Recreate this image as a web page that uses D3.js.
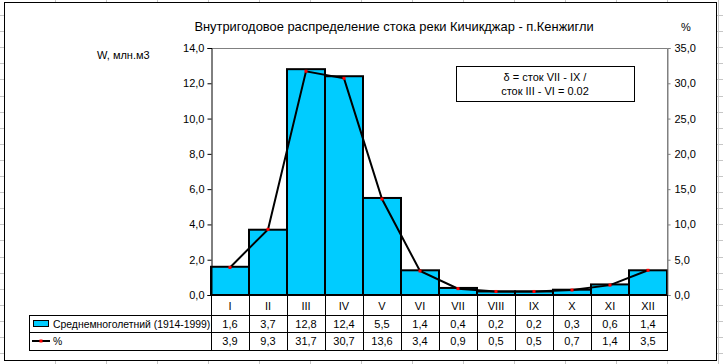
<!DOCTYPE html>
<html>
<head>
<meta charset="utf-8">
<script src="https://cdn.jsdelivr.net/npm/d3@7"></script>
<style>
  body { margin: 0; background: #fff; }
  svg text { font-family: "Liberation Sans", Arial, sans-serif; fill: #000; }
</style>
</head>
<body>
<svg id="chart" width="723" height="364"></svg>
<script>
// chart data
const months = ["I", "II", "III", "IV", "V", "VI", "VII", "VIII", "IX", "X", "XI", "XII"];
const flow = [1.6, 3.7, 12.8, 12.4, 5.5, 1.4, 0.4, 0.2, 0.2, 0.3, 0.6, 1.4];
const percent = [3.9, 9.3, 31.7, 30.7, 13.6, 3.4, 0.9, 0.5, 0.5, 0.7, 1.4, 3.5];
const leftTicks = [0, 2, 4, 6, 8, 10, 12, 14];
const rightTicks = [0, 5, 10, 15, 20, 25, 30, 35];
const seriesNames = ["Среднемноголетний (1914-1999)", "%"];

const svg = d3.select("#chart");
const comma = d => d3.format(".1f")(d).replace(".", ",");

// spreadsheet cell grid behind the chart object
const sheet = svg.append("g").attr("stroke", "#c6c6c6").attr("stroke-width", 1);
sheet.selectAll("line.row")
  .data(d3.range(15, 364, 16.1))
  .enter().append("line")
  .attr("x1", 0).attr("x2", 723)
  .attr("y1", d => Math.round(d) + 0.5).attr("y2", d => Math.round(d) + 0.5);
sheet.selectAll("line.col")
  .data(d3.range(55, 723, 51))
  .enter().append("line")
  .attr("y1", 0).attr("y2", 364)
  .attr("x1", d => d + 0.5).attr("x2", d => d + 0.5);

// chart object frame
svg.append("rect")
  .attr("x", 4.5).attr("y", 2.5)
  .attr("width", 712).attr("height", 358)
  .attr("fill", "#fff").attr("stroke", "#000");

const x = d3.scaleBand().domain(months).range([211, 667]).padding(0);
const yL = d3.scaleLinear().domain([0, 14]).range([295, 48]);
const yR = d3.scaleLinear().domain([0, 35]).range([295, 48]);

// plot area border (top, right)
svg.append("path")
  .attr("d", "M211,48.5H667.5V295")
  .attr("fill", "none").attr("stroke", "#808080");

// bars
svg.append("g").selectAll("rect")
  .data(flow)
  .enter().append("rect")
  .attr("x", (d, i) => x(months[i]))
  .attr("y", d => yL(d))
  .attr("width", x.bandwidth())
  .attr("height", d => yL(0) - yL(d))
  .attr("fill", "#00ccff")
  .attr("stroke", "#000")
  .attr("stroke-width", 2);

// percent line
const line = d3.line()
  .x((d, i) => x(months[i]) + x.bandwidth() / 2)
  .y(d => yR(d));
svg.append("path")
  .datum(percent)
  .attr("d", line)
  .attr("fill", "none")
  .attr("stroke", "#000")
  .attr("stroke-width", 2);
svg.append("g").selectAll("rect")
  .data(percent)
  .enter().append("rect")
  .attr("x", (d, i) => x(months[i]) + x.bandwidth() / 2 - 1.5)
  .attr("y", d => yR(d) - 1.5)
  .attr("width", 3).attr("height", 3)
  .attr("fill", "#ff0000");

// left axis
const axL = svg.append("g")
  .attr("transform", "translate(211.5,0)")
  .call(d3.axisLeft(yL).tickValues(leftTicks).tickFormat(comma).tickSize(4).tickPadding(3));
axL.select(".domain").attr("stroke", "#000");
axL.selectAll("text").style("font-size", "11px");

// right axis
const axR = svg.append("g")
  .attr("transform", "translate(667.5,0)")
  .call(d3.axisRight(yR).tickValues(rightTicks).tickFormat(comma).tickSize(3).tickPadding(4));
axR.select(".domain").attr("stroke", "#808080");
axR.selectAll(".tick line").attr("stroke", "#808080");
axR.selectAll("text").style("font-size", "11px");

// x axis line
svg.append("line")
  .attr("x1", 211).attr("x2", 668)
  .attr("y1", 295.5).attr("y2", 295.5)
  .attr("stroke", "#000");

// data table
const table = svg.append("g").attr("stroke", "#000").attr("stroke-width", 1);
table.selectAll("line.sep")
  .data(d3.range(months.length + 1))
  .enter().append("line")
  .attr("x1", i => Math.round(211 + i * x.step()) + 0.5)
  .attr("x2", i => Math.round(211 + i * x.step()) + 0.5)
  .attr("y1", 295).attr("y2", 350);
table.selectAll("line.rowline")
  .data([315, 332, 350])
  .enter().append("line")
  .attr("x1", 29).attr("x2", 668)
  .attr("y1", d => d + 0.5).attr("y2", d => d + 0.5);
table.append("line")
  .attr("x1", 29.5).attr("x2", 29.5)
  .attr("y1", 315).attr("y2", 351);

const cx = m => x(m) + x.bandwidth() / 2;
svg.append("g").selectAll("text")
  .data(months)
  .enter().append("text")
  .attr("x", d => cx(d)).attr("y", 310)
  .attr("text-anchor", "middle")
  .style("font-size", "11px")
  .text(d => d);
[flow, percent].forEach((vals, r) => {
  svg.append("g").selectAll("text")
    .data(vals)
    .enter().append("text")
    .attr("x", (d, i) => cx(months[i])).attr("y", 328 + r * 17)
    .attr("text-anchor", "middle")
    .style("font-size", "11px")
    .text(comma);
});

// legend keys in the table
svg.append("rect")
  .attr("x", 33.5).attr("y", 320.5).attr("width", 15).attr("height", 6)
  .attr("fill", "#00ccff").attr("stroke", "#000");
svg.append("line")
  .attr("x1", 32).attr("x2", 50).attr("y1", 341).attr("y2", 341)
  .attr("stroke", "#000").attr("stroke-width", 2);
svg.append("rect")
  .attr("x", 39.5).attr("y", 339.5).attr("width", 3).attr("height", 3)
  .attr("fill", "#ff0000");
svg.selectAll("text.leg")
  .data(seriesNames)
  .enter().append("text")
  .attr("x", 53).attr("y", (d, i) => 328 + i * 17)
  .style("font-size", "10.4px")
  .text(d => d);

// titles
svg.append("text")
  .attr("x", 394).attr("y", 31)
  .attr("text-anchor", "middle")
  .style("font-size", "12.9px")
  .text("Внутригодовое распределение стока реки Кичикджар - п.Кенжигли");
svg.append("text")
  .attr("x", 686).attr("y", 31)
  .attr("text-anchor", "middle")
  .style("font-size", "11px")
  .text("%");
svg.append("text")
  .attr("x", 97).attr("y", 59)
  .style("font-size", "11px")
  .text("W, млн.м3");

// annotation box
svg.append("rect")
  .attr("x", 456.5).attr("y", 66.5).attr("width", 178).attr("height", 35)
  .attr("fill", "#fff").attr("stroke", "#000");
svg.selectAll("text.note")
  .data(["δ = сток VII - IX /", "сток III - VI = 0.02"])
  .enter().append("text")
  .attr("x", 545).attr("y", (d, i) => 81 + i * 14)
  .attr("text-anchor", "middle")
  .style("font-size", "11px")
  .text(d => d);
</script>
</body>
</html>
